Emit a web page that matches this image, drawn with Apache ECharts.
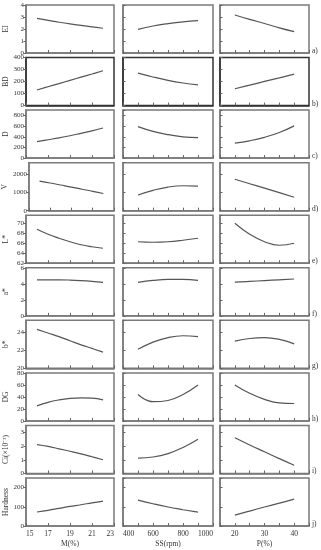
<!DOCTYPE html>
<html><head><meta charset="utf-8">
<script src="https://cdn.jsdelivr.net/npm/echarts@6/dist/echarts.min.js"></script>
<style>html,body{margin:0;padding:0;background:#fff}#c{width:321px;height:550px}</style>
</head><body><div id="c"></div>
<script>
// Factor levels (x values)
const M = [16, 17, 18, 19, 20, 21, 22];
const SS = [500, 600, 700, 800, 900];
const P = [20, 25, 30, 35, 40];

// Responses vs M
const EI_M = [2.88, 2.72, 2.56, 2.42, 2.3, 2.18, 2.06];
const BD_M = [130, 157, 183, 210, 237, 263, 290];
const D_M = [310, 345, 380, 420, 465, 510, 565];
const V_M = [1600, 1500, 1390, 1280, 1160, 1050, 930];
const L_M = [68.8, 67.8, 67.0, 66.3, 65.7, 65.3, 65.0];
const A_M = [4.48, 4.5, 4.5, 4.47, 4.4, 4.3, 4.17];
const B_M = [24.3, 23.9, 23.5, 23.05, 22.6, 22.2, 21.8];
const DG_M = [25, 31, 35, 37.5, 38.5, 38, 35];
const CI_M = [2.1, 1.97, 1.8, 1.62, 1.43, 1.22, 1.0];
const H_M = [73, 82, 92, 102, 111, 121, 130];

// Responses vs SS
const EI_SS = [1.97, 2.25, 2.45, 2.6, 2.69];
const BD_SS = [270, 238, 210, 188, 172];
const D_SS = [590, 500, 440, 400, 385];
const V_SS = [850, 1100, 1280, 1350, 1330];
const L_SS = [66.3, 66.2, 66.3, 66.6, 67.0];
const A_SS = [4.17, 4.42, 4.55, 4.55, 4.42];
const B_SS = [22.1, 22.9, 23.4, 23.6, 23.5];
const DG_SS = [44, 32, 34, 44, 60];
const CI_SS = [1.12, 1.2, 1.45, 1.9, 2.5];
const H_SS = [135, 116, 99, 85, 72];

// Responses vs P
const EI_P = [3.17, 2.8, 2.46, 2.1, 1.78];
const BD_P = [140, 170, 201, 231, 262];
const D_P = [280, 325, 390, 480, 605];
const V_P = [1700, 1460, 1220, 980, 730];
const L_P = [70.0, 67.8, 66.3, 65.6, 66.0];
const A_P = [4.2, 4.3, 4.4, 4.5, 4.6];
const B_P = [23.0, 23.3, 23.4, 23.2, 22.7];
const DG_P = [60, 46, 36, 30, 29];
const CI_P = [2.6, 2.08, 1.58, 1.08, 0.6];
const H_P = [57, 78, 99, 119, 140];

const yNames = ['EI', 'BD', 'D', 'V', 'L*', 'a*', 'b*', 'DG', 'Ci(×10⁻³)', 'Hardness'];
const yMin = [0, 0, 0, 0, 62, 0, 20, 0, 0, 0];
const yMax = [4, 400, 900, 2600, 71.6, 6, 25.3, 80, 3.5, 250];
const yStep = [1, 100, 200, 1000, 2, 2, 2, 20, 1, 100];
const panelTags = ['a)', 'b)', 'c)', 'd)', 'e)', 'f)', 'g)', 'h)', 'i)', 'j)'];

const xCols = [M, SS, P];
const xMin = [15, 400, 15];
const xMax = [23, 1000, 45];
const xStep = [2, 100, 5];
const xNames = ['M(%)', 'SS(rpm)', 'P(%)'];
const xLabelStep = [2, 200, 10];

const data = [
  [EI_M, EI_SS, EI_P], [BD_M, BD_SS, BD_P], [D_M, D_SS, D_P], [V_M, V_SS, V_P],
  [L_M, L_SS, L_P], [A_M, A_SS, A_P], [B_M, B_SS, B_P], [DG_M, DG_SS, DG_P],
  [CI_M, CI_SS, CI_P], [H_M, H_SS, H_P]
];

const FONT = 'Liberation Serif';
const lefts = [26, 123, 220];
const widths = [88, 90, 89];
const pitch = 52.56, h = 48;
const frame = '#7a7a7a';

const grids = [], xAxes = [], yAxes = [], series = [], graphics = [];
let k = 0;
for (let r = 0; r < 10; r++) {
  const top = 5 + pitch * r;
  for (let c = 0; c < 3; c++) {
    grids.push({left: lefts[c], top: top, width: widths[c], height: h,
      show: true, borderColor: r === 1 ? '#333' : frame, borderWidth: 1.5, containLabel: false});
    const last = r === 9;
    xAxes.push({type: 'value', gridIndex: k, min: xMin[c], max: xMax[c], interval: xStep[c],
      axisLine: {show: true, lineStyle: {color: r === 1 ? '#333' : frame, width: 1.5}},
      axisTick: {show: true, inside: true, length: 3, lineStyle: {color: '#666', width: 1}},
      splitLine: {show: false},
      axisLabel: {show: last, fontFamily: FONT, fontSize: 7.5, color: '#333', margin: 4,
        alignMinLabel: 'left', alignMaxLabel: 'right',
        showMinLabel: true, showMaxLabel: true,
        formatter: v => {
          if (c === 2 && (v === 15 || v === 45)) return '';
          return (Math.round(v) % xLabelStep[c] === 0 || c === 0) ? String(v) : '';
        }},
      name: last ? xNames[c] : '', nameLocation: 'middle', nameGap: 14,
      nameTextStyle: {fontFamily: FONT, fontSize: 7.5, color: '#333'}
    });
    const niceMax = ((yMax[r] - yMin[r]) / yStep[r]) % 1 === 0;
    yAxes.push({type: 'value', gridIndex: k, min: yMin[r], max: yMax[r], interval: yStep[r],
      axisLine: {show: true, lineStyle: {color: r === 1 ? '#333' : frame, width: 1.5}},
      axisTick: {show: true, inside: c !== 0, length: 2.5, lineStyle: {color: '#666', width: 1}},
      splitLine: {show: false},
      axisLabel: {show: c === 0, fontFamily: FONT, fontSize: 7, color: '#333', margin: 2,
        showMaxLabel: niceMax,
        formatter: v => String(Math.round(v * 100) / 100)},
      name: c === 0 ? yNames[r] : '', nameLocation: 'middle', nameRotate: 90, nameGap: 16,
      nameTextStyle: {fontFamily: FONT, fontSize: 7.5, color: '#333'}
    });
    const xs = xCols[c], ys = data[r][c];
    series.push({type: 'line', xAxisIndex: k, yAxisIndex: k, smooth: 0.45, showSymbol: false,
      silent: true, lineStyle: {color: '#555', width: 1.2},
      data: xs.map((x, i) => [x, ys[i]])});
    k++;
  }
  graphics.push({type: 'text', left: 312, top: top + h - 6,
    style: {text: panelTags[r], font: '7.5px "Liberation Serif"', fill: '#333'}});
}

const chart = echarts.init(document.getElementById('c'), null, {renderer: 'canvas'});
chart.setOption({animation: false, backgroundColor: '#fff', grid: grids, xAxis: xAxes, yAxis: yAxes,
  series: series, graphic: graphics});
</script></body></html>
